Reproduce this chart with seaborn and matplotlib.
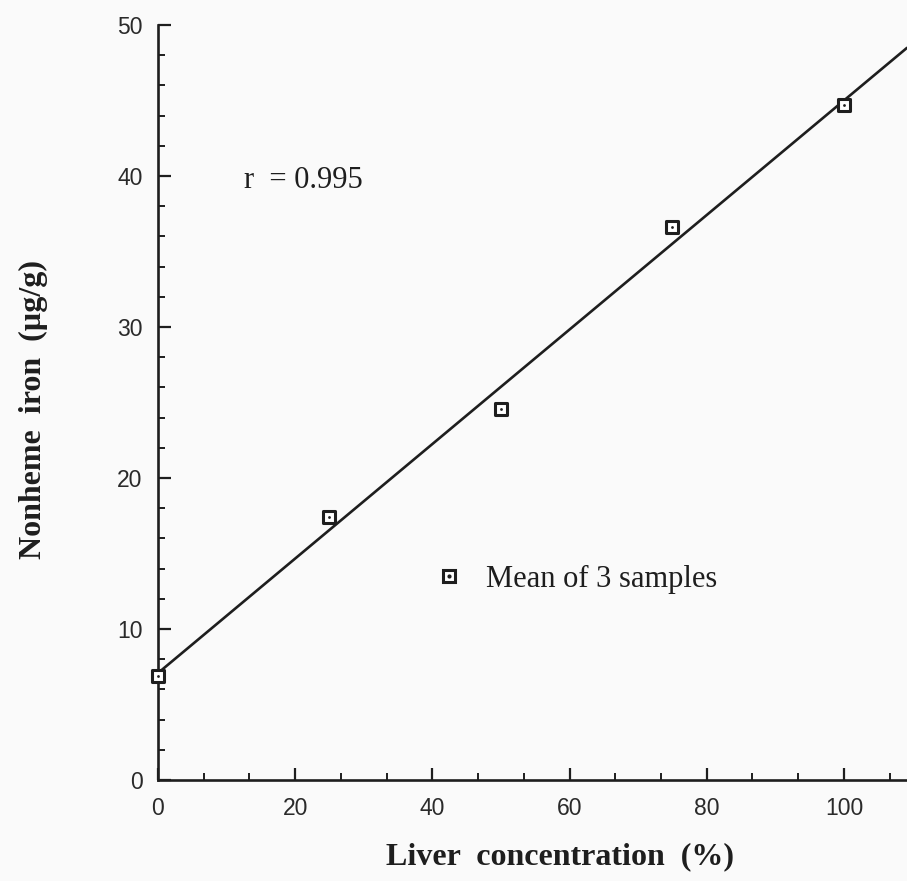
import numpy as np
import pandas as pd
import matplotlib
matplotlib.use("Agg")
import matplotlib.pyplot as plt
from matplotlib.lines import Line2D
from matplotlib.ticker import MultipleLocator
import seaborn as sns

# Data
liver_conc = [0, 25, 50, 75, 100]          # %
nonheme_iron = [6.9, 17.4, 24.6, 36.6, 44.7]  # ug/g
x_ticks = [0, 20, 40, 60, 80, 100]
y_ticks = [0, 10, 20, 30, 40, 50]
r_text = "r  = 0.995"
legend_label = "Mean of 3 samples"

df = pd.DataFrame({"conc": liver_conc, "iron": nonheme_iron})

sns.set_theme(style="ticks")
plt.rcParams["font.family"] = ["Liberation Serif", "DejaVu Serif"]

ink = "#1e1e1e"
bg = "#fafafa"

fig = plt.figure(figsize=(9.07, 8.81), dpi=100, facecolor=bg)
ax = fig.add_axes([0.1742, 0.1147, 1 - 0.1742, 0.9716 - 0.1147])
ax.set_facecolor(bg)
ax.set_xlim(0, 109.2)
ax.set_ylim(0, 50)

sns.regplot(data=df, x="conc", y="iron", ax=ax, ci=None, truncate=False,
            scatter=False, line_kws=dict(color=ink, lw=1.9, zorder=2))
sns.scatterplot(data=df, x="conc", y="iron", ax=ax, marker="s", s=72,
                facecolor="white", edgecolor=ink, linewidth=2.2, zorder=3,
                clip_on=False)
sns.scatterplot(data=df, x="conc", y="iron", ax=ax, marker="o", s=4,
                color=ink, linewidth=0, zorder=4, clip_on=False)

ax.set_xlim(0, 109.2)
ax.set_ylim(0, 50)

for s in ["top", "right"]:
    ax.spines[s].set_visible(False)
for s in ["left", "bottom"]:
    ax.spines[s].set_linewidth(1.9)
    ax.spines[s].set_color(ink)

ax.set_xticks(x_ticks)
ax.set_yticks(y_ticks)
ax.xaxis.set_minor_locator(MultipleLocator(20 / 3))
ax.yaxis.set_minor_locator(MultipleLocator(2))
ax.tick_params(which="major", direction="in", length=9, width=1.6, color=ink,
               labelsize=16.5, labelcolor="#2a2a2a")
ax.tick_params(axis="x", which="major", pad=12)
ax.tick_params(axis="y", which="major", pad=11)
ax.tick_params(which="minor", direction="in", length=5, width=1.4, color=ink)
for lbl in ax.get_xticklabels() + ax.get_yticklabels():
    lbl.set_family(["Liberation Sans", "DejaVu Sans"])

ax.set_xlabel("Liver  concentration  (%)", fontsize=23, fontweight="bold",
              color=ink)
ax.set_ylabel("Nonheme  iron  (\u00b5g/g)", fontsize=23, fontweight="bold",
              color=ink)
ax.xaxis.set_label_coords((560 - 158) / 749, -(842 - 780) / 755)
ax.yaxis.set_label_coords((48 - 158) / 749, (780 - 410) / 755)

ax.text(12.6, 39.7, r_text, fontsize=22, color=ink, va="center", ha="left")

h_sq = Line2D([], [], marker="s", ls="none", markersize=8.5, markerfacecolor="white",
              markeredgecolor=ink, markeredgewidth=2.2)
h_dot = Line2D([], [], marker="o", ls="none", markersize=2.0, color=ink)
leg = ax.legend(handles=[(h_sq, h_dot)], labels=[legend_label], frameon=False,
                loc="center left", bbox_to_anchor=(40.2 / 109.2, 13.3 / 50),
                fontsize=22, handlelength=1.0, handletextpad=0.7,
                borderpad=0, borderaxespad=0)
for t in leg.get_texts():
    t.set_color(ink)

fig.savefig("out.png", dpi=100, facecolor=bg)
